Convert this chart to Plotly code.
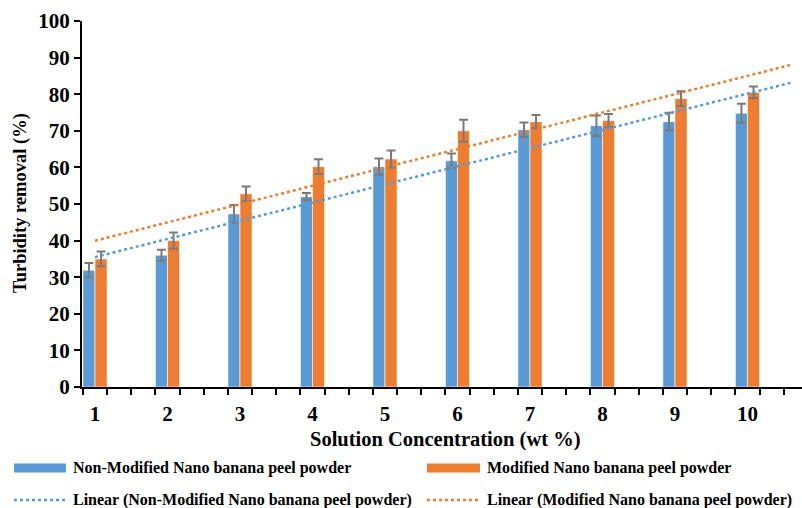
import numpy as np
import plotly.graph_objects as go

concentration = [1, 2, 3, 4, 5, 6, 7, 8, 9, 10]
non_modified = [31.9, 36.0, 47.3, 52.0, 60.2, 61.8, 70.3, 71.4, 72.5, 74.8]
non_modified_err = [2.0, 1.5, 2.4, 1.0, 2.2, 2.0, 2.0, 2.8, 2.4, 2.6]
modified = [35.0, 40.0, 52.8, 60.2, 62.3, 70.0, 72.5, 72.8, 78.8, 80.5]
modified_err = [2.0, 2.2, 2.0, 2.0, 2.3, 3.0, 1.8, 1.8, 2.0, 1.6]
y_ticks = [0, 10, 20, 30, 40, 50, 60, 70, 80, 90, 100]

name_nm = "Non-Modified Nano banana peel powder"
name_m = "Modified Nano banana peel powder"
BLUE = "#5B9BD5"
ORANGE = "#ED7D31"
ERR = "#7A7A7A"
FONT = "Liberation Serif"

trend_x = np.array([concentration[0], concentration[-1] + 0.6])
x_arr = np.array(concentration, dtype=float)
k_nm, b_nm = np.polyfit(x_arr, np.array(non_modified), 1)
k_m, b_m = np.polyfit(x_arr, np.array(modified), 1)

fig = go.Figure()
fig.add_trace(go.Bar(
    x=concentration, y=non_modified, width=1/6, offset=-1/6,
    marker=dict(color=BLUE, line=dict(color="white", width=0.6)),
    error_y=dict(type="data", array=non_modified_err, color=ERR, thickness=2, width=4.5),
    name=name_nm, showlegend=False))
fig.add_trace(go.Bar(
    x=concentration, y=modified, width=1/6, offset=0,
    marker=dict(color=ORANGE, line=dict(color="white", width=0.6)),
    error_y=dict(type="data", array=modified_err, color=ERR, thickness=2, width=4.5),
    name=name_m, showlegend=False))
fig.add_trace(go.Scatter(
    x=trend_x, y=k_nm * trend_x + b_nm, mode="lines",
    line=dict(color=BLUE, width=2.5, dash="dot"), showlegend=False))
fig.add_trace(go.Scatter(
    x=trend_x, y=k_m * trend_x + b_m, mode="lines",
    line=dict(color=ORANGE, width=2.5, dash="dot"), showlegend=False))

L, T, B = 82, 21, 121
W, H = 802, 508
pw, ph = W - L, H - T - B


def px(x):
    return (x - L) / pw


def py(y):
    return (H - B - y) / ph


# custom legend
legend_items = [
    (14, 66, 468, "bar", BLUE, name_nm),
    (427, 480, 468, "bar", ORANGE, name_m),
    (14, 66, 500, "dot", BLUE, "Linear (" + name_nm + ")"),
    (427, 480, 500, "dot", ORANGE, "Linear (" + name_m + ")"),
]
shapes = []
annotations = []
for x0, x1, yc, kind, col, label in legend_items:
    if kind == "bar":
        shapes.append(dict(type="rect", xref="paper", yref="paper",
                           x0=px(x0), x1=px(x1), y0=py(yc + 4.5), y1=py(yc - 4.5),
                           fillcolor=col, line=dict(width=0)))
    else:
        shapes.append(dict(type="line", xref="paper", yref="paper",
                           x0=px(x0), x1=px(x1), y0=py(yc), y1=py(yc),
                           line=dict(color=col, width=2.5, dash="dot")))
    annotations.append(dict(xref="paper", yref="paper", x=px(x1 + 5), y=py(yc),
                            xanchor="left", yanchor="middle", showarrow=False,
                            text=label, font=dict(family=FONT, size=16, color="black", weight="bold")))

annotations.append(dict(xref="paper", yref="paper", x=px(20), y=py(203),
                        xanchor="center", yanchor="middle", showarrow=False, textangle=-90,
                        text="Turbidity removal (%)",
                        font=dict(family=FONT, size=18.5, color="black", weight="bold")))
annotations.append(dict(xref="paper", yref="paper", x=px(445), y=py(439),
                        xanchor="center", yanchor="middle", showarrow=False,
                        text="Solution Concentration (wt %)",
                        font=dict(family=FONT, size=20.5, color="black", weight="bold")))

fig.update_layout(
    width=W, height=H,
    margin=dict(l=L, r=0, t=T, b=B, pad=0),
    plot_bgcolor="white", paper_bgcolor="white",
    showlegend=False,
    shapes=shapes, annotations=annotations,
    xaxis=dict(range=[0.8207, 10.752], tickmode="array", tickvals=concentration,
               ticktext=[str(c) for c in concentration],
               ticks="outside", ticklen=7, tickcolor="rgba(0,0,0,0)",
               showline=True, linecolor="black", linewidth=2, showgrid=False, zeroline=False,
               tickfont=dict(family=FONT, size=21, color="black", weight="bold"),
               minor=dict(ticks="outside", ticklen=6, tickwidth=2, tickcolor="black",
                          tick0=5/6, dtick=1/3, showgrid=False)),
    yaxis=dict(range=[0, 100], tickvals=y_ticks, ticks="outside", ticklen=6, tickwidth=2,
               tickcolor="black", showline=True, linecolor="black", linewidth=2,
               showgrid=False, zeroline=False,
               tickfont=dict(family=FONT, size=21, color="black", weight="bold")),
)

fig.write_html("out.html")
